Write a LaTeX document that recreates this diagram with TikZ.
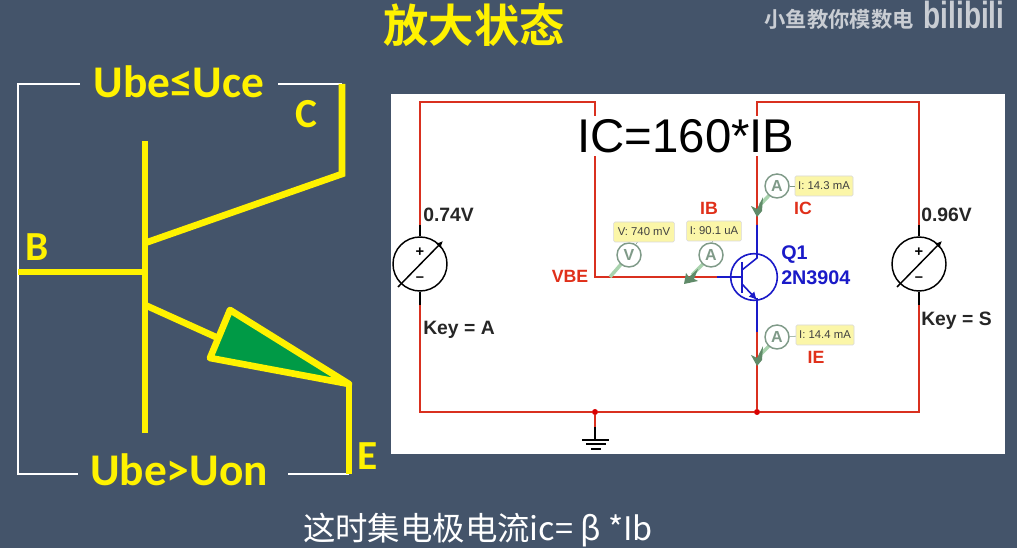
\documentclass[tikz,border=0pt]{standalone}
\usepackage{fontspec}
\setmainfont{Liberation Sans}
\newfontfamily\cjk{Noto Sans CJK SC}
\newfontfamily\cjkb{Noto Sans CJK SC Bold}
\newfontfamily\carl[BoldFont=Carlito Bold]{Carlito}
\usetikzlibrary{arrows.meta}
\definecolor{bgc}{HTML}{44546A}
\definecolor{yel}{HTML}{FFF200}
\definecolor{grn}{HTML}{009A46}
\definecolor{wire}{HTML}{D9301F}
\definecolor{blu}{HTML}{1A1AC8}
\definecolor{lab}{HTML}{E0301A}
\definecolor{tipc}{HTML}{FBF6A8}
\definecolor{mgr}{HTML}{7F9A88}
\definecolor{prb}{HTML}{A9D3AE}
\definecolor{prk}{HTML}{5F8A68}
\definecolor{wm}{HTML}{C9CDD3}
\tikzset{
 x=0.75pt,y=-0.75pt,
 ybar/.style={draw=yel,line width=5pt,line join=miter},
 wbar/.style={draw=white,line width=1.7pt},
 rw/.style={draw=wire,line width=1.35pt},
 bw/.style={draw=blu,line width=1.2pt},
 kw/.style={draw=black,line width=1.1pt},
 bigl/.style={font=\carl\bfseries\fontsize{34}{34}\selectfont,text=yel,inner sep=0pt},
 letl/.style={font=\carl\bfseries\fontsize{31}{31}\selectfont,text=yel,inner sep=0pt},
 rlab/.style={font=\bfseries\fontsize{13.3}{14}\selectfont,text=lab,inner sep=0pt},
 klab/.style={font=\bfseries\fontsize{14.5}{15}\selectfont,text=black!85,inner sep=0pt},
 blab/.style={font=\bfseries\fontsize{14.8}{15}\selectfont,text=blu,inner sep=0pt},
 tip/.style={fill=tipc,draw=black!15,line width=0.4pt,rounded corners=1pt,font=\fontsize{8.5}{9}\selectfont,text=black!75,inner sep=0pt,minimum height=15pt},
 meter/.style={circle,draw=mgr,fill=white,line width=1.1pt,minimum size=18pt,inner sep=0pt,font=\bfseries\fontsize{12}{12}\selectfont,text=mgr},
 probe/.style={draw=prb,line width=2.6pt},
 ptip/.style={fill=prk,draw=none},
 src/.style={circle,draw=black,fill=white,line width=1.1pt,minimum size=40.5pt,inner sep=0pt},
 dotn/.style={circle,fill=red!85!black,inner sep=0pt,minimum size=4.5pt},
}
\newcommand{\probedown}[2]{% tip at (#1,#2), on a vertical wire
 \fill[ptip] (#1,#2) -- ++(-6,-11) -- ++(6,3) -- ++(6,-12) -- ++(-1,14) -- cycle;}
\newcommand{\probeleft}[2]{% tip at (#1,#2), on a horizontal wire
 \fill[ptip] (#1,#2) -- ++(2,-11) -- ++(3,4) -- ++(9,-8) -- ++(-4,10) -- ++(4,2) -- cycle;}
\begin{document}
\begin{tikzpicture}
\useasboundingbox (0,0) rectangle (1017,548);
\fill[bgc] (0,0) rectangle (1017,548);
% titles
\node[font=\cjkb\fontsize{34}{34}\selectfont,text=yel,inner sep=0pt] (title) at (474,25) {放大状态};
\node[font=\cjkb\fontsize{16}{16}\selectfont,text=wm,inner sep=0pt] (wmk) at (839,19) {小鱼教你模数电};
\node[font=\bfseries\fontsize{21}{21}\selectfont,text=wm,inner sep=0pt,yscale=1.35] (logo) at (964,15) {bilibili};
\node[font=\cjk\fontsize{24.3}{25}\selectfont,text=white,inner sep=0pt] (foot) at (478,530) {这时集电极电流ic= β *Ib};
% left symbol labels
\node[bigl] (uce) at (179,82) {Ube≤Uce};
\node[bigl] (uon) at (179,470) {Ube>Uon};
\node[letl] (lc) at (306,114) {C};
\node[letl] (lb) at (37,247) {B};
\node[letl] (le) at (368,456) {E};
% coordinates of the symbol
\coordinate (bTop) at (145,141);
\coordinate (bBot) at (145,433);
\coordinate (bMid) at (145,272);
\coordinate (bL) at (18,272);
\coordinate (cJ) at (145,243);
\coordinate (cK) at (342,174);
\coordinate (cT) at (342,84);
\coordinate (eJ) at (145,305);
\coordinate (eA) at (218,338);
\coordinate (a1) at (230,310);
\coordinate (a2) at (210,358);
\coordinate (a3) at (349,384);
\coordinate (eB) at (349,474);
\coordinate (wTL) at (18,84);
\coordinate (wBL) at (18,474);
\coordinate (wT1) at (80,84);
\coordinate (wT2) at (278,84);
\coordinate (wB1) at (78,474);
\coordinate (wB2) at (288,474);
% white bracket
\draw[wbar] (wT1) -- (wTL) -- (bL);
\draw[wbar] (bL) -- (wBL) -- (wB1);
\draw[wbar] (wT2) -- (cT);
\draw[wbar] (wB2) -- (eB);
% yellow
\draw[ybar] (bTop) -- (bBot);
\draw[ybar] (bL) -- (bMid);
\draw[ybar] (cJ) -- (cK) -- (cT);
\draw[ybar] (eJ) -- (eA);
\draw[draw=yel,fill=grn,line width=5pt,line join=round] (a1) -- (a3) -- (a2) -- cycle;
\draw[ybar] (a3) -- (eB);
% panel
\fill[white] (391,94) rectangle (1005,454);
% coordinates of circuit
\coordinate (tl) at (420,102);
\coordinate (tm) at (595,102);
\coordinate (tn) at (757,102);
\coordinate (tr) at (919,102);
\coordinate (bl) at (420,412);
\coordinate (br) at (919,412);
\coordinate (vb) at (595,277);
\coordinate (qb) at (717,277);
\coordinate (qc) at (757,225);
\coordinate (qe) at (757,332);
\node[dotn] (j1) at (595,412) {};
\node[dotn] (j2) at (757,412) {};
% sources
\node[src] (s1) at (420,264) {};
\node[src] (s2) at (919,264) {};
\coordinate (s1t) at (420,225);
\coordinate (s1b) at (420,305);
\coordinate (s2t) at (919,225);
\coordinate (s2b) at (919,305);
\coordinate (gt) at (595,427);
\coordinate (gb) at (595,440);
% wires
\draw[rw] (s1t) -- (tl) -- (tm) -- (vb) -- (qb);
\draw[rw] (s1b) -- (bl) -- (j1) -- (j2) -- (br) -- (s2b);
\draw[rw] (qc) -- (tn) -- (tr) -- (s2t);
\draw[rw] (qe) -- (j2);
\draw[rw] (j1) -- (gt);
% equation, on a white backing that interrupts the wires
\node[font=\fontsize{35.5}{36}\selectfont,text=black,fill=white,inner sep=2pt,text height=25.5pt,text depth=0pt] (eq) at (686,136) {IC=160*IB};
% source leads
\draw[kw] (s1.north) -- (s1t);
\draw[kw] (s1.south) -- (s1b);
\draw[kw] (s2.north) -- (s2t);
\draw[kw] (s2.south) -- (s2b);
\foreach \s/\cx in {s1/420,s2/919}{
 \draw[kw,-{Latex[length=5pt,width=5pt]}] (\cx-22,287) -- (\cx+23,241);
 \node[font=\bfseries\fontsize{11}{11}\selectfont,inner sep=0pt] at (\cx,252) {+};
 \node[font=\bfseries\fontsize{11}{11}\selectfont,inner sep=0pt] at (\cx,279) {–};
}
% ground
\draw[kw] (gt) -- (gb);
\draw[kw] (582,440) -- (609,440);
\draw[kw] (586,444) -- (606,444);
\draw[kw] (591,449) -- (601,449);
% transistor
\node[circle,draw=blu,line width=1.2pt,minimum size=35pt,inner sep=0pt,fill=white] (q) at (754,277) {};
\draw[bw] (qb) -- (742,277);
\draw[draw=blu,line width=1.4pt] (742,262) -- (742,293);
\draw[bw] (742,270) -- (757,258) -- (qc);
\draw[bw,-{Latex[length=6pt,width=6pt]}] (742,284) -- (757,300);
\draw[bw] (757,298) -- (qe);
% ammeters/voltmeter probes
\draw[probe] (777,187) -- (760,205);
\draw[probe] (777,338) -- (760,355);
\draw[probe] (711,256) -- (692,275);
\draw[probe] (629,255) -- (610,277);
\node[meter] (mc) at (777,186) {A};
\node[meter] (me) at (777,337) {A};
\node[meter] (mb) at (711,255) {A};
\node[meter] (mv) at (629,255) {V};
\probedown{757}{217}
\probedown{757}{366}
\probeleft{684}{284}
\node[tip,minimum width=43.5pt] (tc) at (824,186) {I: 14.3 mA};
\node[tip,minimum width=43.5pt] (te) at (825,335) {I: 14.4 mA};
\node[tip,minimum width=41pt] (tb) at (714,231) {I: 90.1 uA};
\node[tip,minimum width=45.5pt] (tv) at (644,232) {V: 740 mV};
\draw[draw=mgr,line width=0.4pt] (mc) -- (tc);
\draw[draw=mgr,line width=0.4pt] (me) -- (te);
\draw[draw=mgr,line width=0.4pt] (mb) -- (tb);
\draw[draw=mgr,line width=0.4pt] (mv) -- (tv);
% labels
\node[rlab] (lib) at (709,208) {IB};
\node[rlab] (lic) at (803,208) {IC};
\node[rlab] (lie) at (816,357) {IE};
\node[rlab] (lvbe) at (570,276) {VBE};
\node[blab,anchor=west] (lq) at (781,255) {Q1};
\node[blab,anchor=west] (lq2) at (781,278) {2N3904};
\node[klab,anchor=west] (l074) at (423,215) {0.74V};
\node[klab,anchor=west] (l096) at (921,215) {0.96V};
\node[klab,anchor=west] (lka) at (423,330) {Key = A};
\node[klab,anchor=west] (lks) at (921,321) {Key = S};
\end{tikzpicture}
\end{document}
